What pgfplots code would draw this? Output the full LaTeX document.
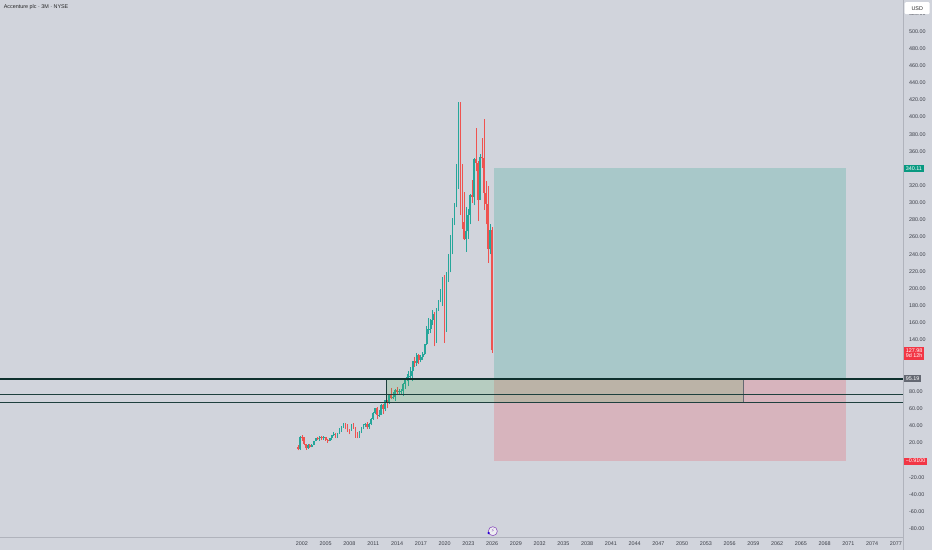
\documentclass[border=0pt]{standalone}
\usepackage{fontspec}
\setmainfont{Liberation Sans}
\newfontfamily\symfont{DejaVu Sans}
\usepackage{pgfplots}
\pgfplotsset{compat=1.18}
\usepackage{pgfplotstable}

\definecolor{bg}{RGB}{209,212,220}
\definecolor{up}{RGB}{38,166,154}
\definecolor{down}{RGB}{239,83,80}
\definecolor{profit}{RGB}{8,153,129}
\definecolor{loss}{RGB}{242,54,69}
\definecolor{zone}{RGB}{76,175,80}
\definecolor{lvl}{RGB}{14,48,45}
\definecolor{lvlthin}{RGB}{30,64,62}
\definecolor{axisgray}{RGB}{176,179,188}
\definecolor{lbl}{RGB}{60,63,72}
\definecolor{pricegray}{RGB}{100,104,114}
\definecolor{evt}{RGB}{140,80,190}

% quarterly candles, t = year + (quarter-1)/4
\pgfplotstableread{
t o h l c
2001.75 12.7 28.0 12.5 26.9
2002.75 14.3 19.5 13.5 18.0
2003.25 15.5 19.0 15.0 18.2
2003.50 18.2 23.0 17.5 22.3
2003.75 22.3 26.5 22.0 26.3
2004.25 25.4 28.0 23.0 27.5
2004.75 26.9 28.0 24.0 27.0
2005.50 22.7 26.0 22.0 25.5
2005.75 25.5 29.5 24.0 28.9
2006.00 28.9 32.5 28.5 30.1
2006.50 28.3 32.0 26.5 31.7
2006.75 31.7 37.5 31.0 36.9
2007.00 36.9 39.5 33.0 38.5
2007.25 38.5 43.5 38.0 42.9
2008.25 35.2 42.0 34.5 40.7
2009.25 27.5 34.0 26.0 33.5
2009.50 33.5 38.5 31.5 37.3
2009.75 37.3 42.5 36.0 41.5
2010.00 41.5 43.5 38.5 42.0
2010.50 38.7 43.0 37.0 42.5
2010.75 42.5 49.5 41.5 48.5
2011.00 48.5 56.0 47.5 55.0
2011.25 55.0 61.0 54.0 60.4
2011.75 52.7 58.5 51.0 53.2
2012.00 53.2 65.0 52.5 64.5
2012.50 60.1 70.0 57.0 70.0
2013.00 66.5 77.0 66.0 76.0
2013.50 72.0 80.0 71.0 73.6
2013.75 73.6 83.0 69.5 82.2
2014.25 79.7 82.5 76.0 80.8
2014.50 80.8 83.0 77.0 81.3
2014.75 81.3 90.0 75.0 89.3
2015.00 89.3 95.0 83.0 93.7
2015.25 93.7 100.0 92.0 96.8
2015.50 96.8 104.0 86.0 98.3
2015.75 98.3 109.0 96.0 104.5
2016.00 104.5 116.0 92.0 115.4
2016.50 113.3 125.0 110.0 122.2
2017.00 117.1 123.0 114.0 119.9
2017.25 119.9 126.0 117.0 123.7
2017.50 123.7 136.0 123.0 135.0
2017.75 135.0 156.0 134.0 153.0
2018.00 153.0 166.0 147.0 153.5
2018.25 153.5 165.0 148.0 163.6
2018.50 163.6 175.0 158.0 170.2
2019.00 141.0 178.0 137.0 176.0
2019.25 176.0 187.0 174.0 184.8
2019.50 184.8 200.0 184.0 194.5
2019.75 194.5 214.0 180.0 210.6
2020.25 163.0 219.0 150.0 214.7
2020.50 214.7 240.0 208.0 226.0
2020.75 226.0 262.0 219.0 261.0
2021.00 261.0 282.0 240.0 276.0
2021.25 276.0 300.0 274.0 295.0
2021.50 295.0 345.0 295.0 320.0
2021.75 320.0 417.0 316.0 414.5
2022.75 257.3 295.0 243.0 266.8
2023.00 266.8 293.0 258.0 285.8
2023.25 285.8 310.0 275.0 308.6
2023.75 307.0 352.0 297.0 350.9
2024.50 303.4 357.0 303.0 353.5
2025.75 246.0 275.0 240.0 268.0
}\upcandles

\pgfplotstableread{
t o h l c
2001.50 15.0 17.5 11.6 12.7
2002.00 26.9 29.0 22.5 26.7
2002.25 26.7 27.0 17.5 19.0
2002.50 19.0 19.5 12.5 14.3
2003.00 18.0 19.0 14.5 15.5
2004.00 26.3 27.5 23.5 25.4
2004.50 27.5 28.0 23.5 26.9
2005.00 27.0 27.5 23.0 24.2
2005.25 24.2 24.5 20.5 22.7
2006.25 30.1 31.5 26.0 28.3
2007.50 42.9 43.5 36.0 40.3
2007.75 40.3 42.0 33.0 36.0
2008.00 36.0 37.0 30.5 35.2
2008.50 40.7 43.5 36.5 38.0
2008.75 38.0 38.5 26.0 32.8
2009.00 32.8 33.0 25.5 27.5
2010.25 42.0 45.0 36.0 38.7
2011.50 60.4 62.5 48.0 52.7
2012.25 64.5 65.5 54.5 60.1
2012.75 70.0 70.5 60.5 66.5
2013.25 76.0 84.0 71.0 72.0
2014.00 82.2 85.0 77.0 79.7
2016.25 115.4 120.0 109.0 113.3
2016.75 122.2 124.0 112.0 117.1
2018.75 170.2 173.0 132.6 141.0
2020.00 210.6 216.0 137.0 163.0
2022.00 414.5 417.0 286.0 337.0
2022.25 337.0 345.0 270.0 277.6
2022.50 277.6 313.0 257.0 257.3
2023.50 308.6 327.0 300.0 307.0
2024.00 350.9 387.0 337.0 346.6
2024.25 346.6 349.0 278.7 303.4
2024.75 353.5 376.0 341.0 351.8
2025.00 351.8 398.0 292.0 312.0
2025.25 312.0 325.0 275.0 299.0
2025.50 299.0 320.0 230.0 246.0
2026.00 268.0 272.0 125.0 127.98
}\downcandles

\begin{document}
\begin{tikzpicture}
\fill[bg] (0,0) rectangle (932pt,550pt);
\useasboundingbox (0,0) rectangle (932pt,550pt);
\begin{axis}[
  at={(0,13pt)}, anchor=south west,
  scale only axis, width=903pt, height=537pt,
  xmin=1963.87, xmax=2077.89, ymin=-89.4, ymax=536.3,
  clip=false,
  axis x line*=bottom, axis y line*=right,
  axis line style={draw=axisgray, line width=0.6pt, -},
  major tick length=0pt,
  xtick={2002,2005,...,2077},
  ytick={-80,-60,-40,-20,20,40,60,80,140,160,...,320,360,380,...,520},
  tick label style={font=\fontsize{5.4}{6}\selectfont, text=lbl},
  x tick label style={/pgf/number format/.cd, 1000 sep={}, assume math mode=true, /tikz/.cd, yshift=-1.5pt},
  y tick label style={/pgf/number format/.cd, fixed, fixed zerofill, precision=2, assume math mode=true, /tikz/.cd, xshift=2.5pt},
  candle/.style={draw=none, mark=none, forget plot, error bars/y dir=plus, error bars/y explicit, error bars/error mark=none},
]
% wicks and bodies
\addplot[candle, error bars/error bar style={draw=up, line width=0.8pt}]
  table[x=t, y=l, y error expr=\thisrow{h}-\thisrow{l}] {\upcandles};
\addplot[candle, error bars/error bar style={draw=up, line width=1.7pt}]
  table[x=t, y=o, y error expr=\thisrow{c}-\thisrow{o}] {\upcandles};
\addplot[candle, error bars/error bar style={draw=down, line width=0.8pt}]
  table[x=t, y=l, y error expr=\thisrow{h}-\thisrow{l}] {\downcandles};
\addplot[candle, error bars/error bar style={draw=down, line width=1.7pt}]
  table[x=t, y=c, y error expr=\thisrow{o}-\thisrow{c}] {\downcandles};

% long position: target and stop areas
\addplot[draw=none, fill=profit, fill opacity=0.2] coordinates {(2026.24,95.19) (2070.69,95.19) (2070.69,340.11) (2026.24,340.11)} -- cycle;
\addplot[draw=none, fill=loss, fill opacity=0.2] coordinates {(2026.24,-0.91) (2070.69,-0.91) (2070.69,95.19) (2026.24,95.19)} -- cycle;
% support zone
\addplot[draw=none, fill=zone, fill opacity=0.2] coordinates {(2012.61,66.8) (2057.68,66.8) (2057.68,95.19) (2012.61,95.19)} -- cycle;
\addplot[lvlthin, line width=0.6pt] coordinates {(2012.61,66.8) (2012.61,95.19)};
\addplot[pricegray, line width=0.6pt] coordinates {(2057.68,66.8) (2057.68,95.19)};
% horizontal levels
\addplot[lvlthin, line width=0.9pt] coordinates {(1963.87,66.8) (2077.89,66.8)};
\addplot[lvlthin, line width=0.9pt] coordinates {(1963.87,76.4) (2077.89,76.4)};
\addplot[lvl, line width=2pt] coordinates {(1963.87,95.19) (2077.89,95.19)};

\node[anchor=west, font=\fontsize{5.4}{6}\selectfont, text=black!85, inner sep=0pt] at (axis description cs:0.004,0.987) {Accenture plc · 3M · NYSE};

\coordinate (ptgt) at (axis cs:2077.89,340.11);
\coordinate (plast) at (axis cs:2077.89,127.98);
\coordinate (pentry) at (axis cs:2077.89,95.19);
\coordinate (pstop) at (axis cs:2077.89,-0.91);
\coordinate (corner) at (axis cs:2077.89,-89.4);
\coordinate (ctop) at (axis cs:2077.89,536.3);
\coordinate (evtpos) at (axis cs:2026.1,-82.6);
\end{axis}
\tikzset{pl/.style={anchor=west, font=\fontsize{5.4}{6}\selectfont, text=white, inner xsep=1.8pt, inner ysep=1.6pt, xshift=0.8pt}}
\draw[axisgray, line width=0.6pt] (corner) -- ++(0,-13pt);
\node[pl, fill=profit] at (ptgt) {340.11};
\node[pl, fill=loss, align=left, yshift=-2.8pt, font=\fontsize{5.4}{5.6}\selectfont] at (plast) {127.98\\9d 12h};
\node[pl, fill=pricegray] at (pentry) {95.19};
\node[pl, fill=loss] at (pstop) {\textminus0.9100};
\node[anchor=north west, fill=white, rounded corners=1.2pt, minimum width=25pt, minimum height=12pt, inner sep=1pt,
  font=\fontsize{5.4}{6}\selectfont, text=black!85, xshift=1.5pt, yshift=-2pt] at (ctop) {USD};
\node[circle, draw=evt, fill=bg!40!white, line width=0.6pt, minimum size=9pt, inner sep=0pt, text=evt,
  font=\symfont\fontsize{5}{5}\selectfont] at (evtpos) {⚡};
\fill[blue!70!violet] ([xshift=-4.2pt,yshift=-1.8pt]evtpos) circle (1.2pt);
\end{tikzpicture}
\end{document}
